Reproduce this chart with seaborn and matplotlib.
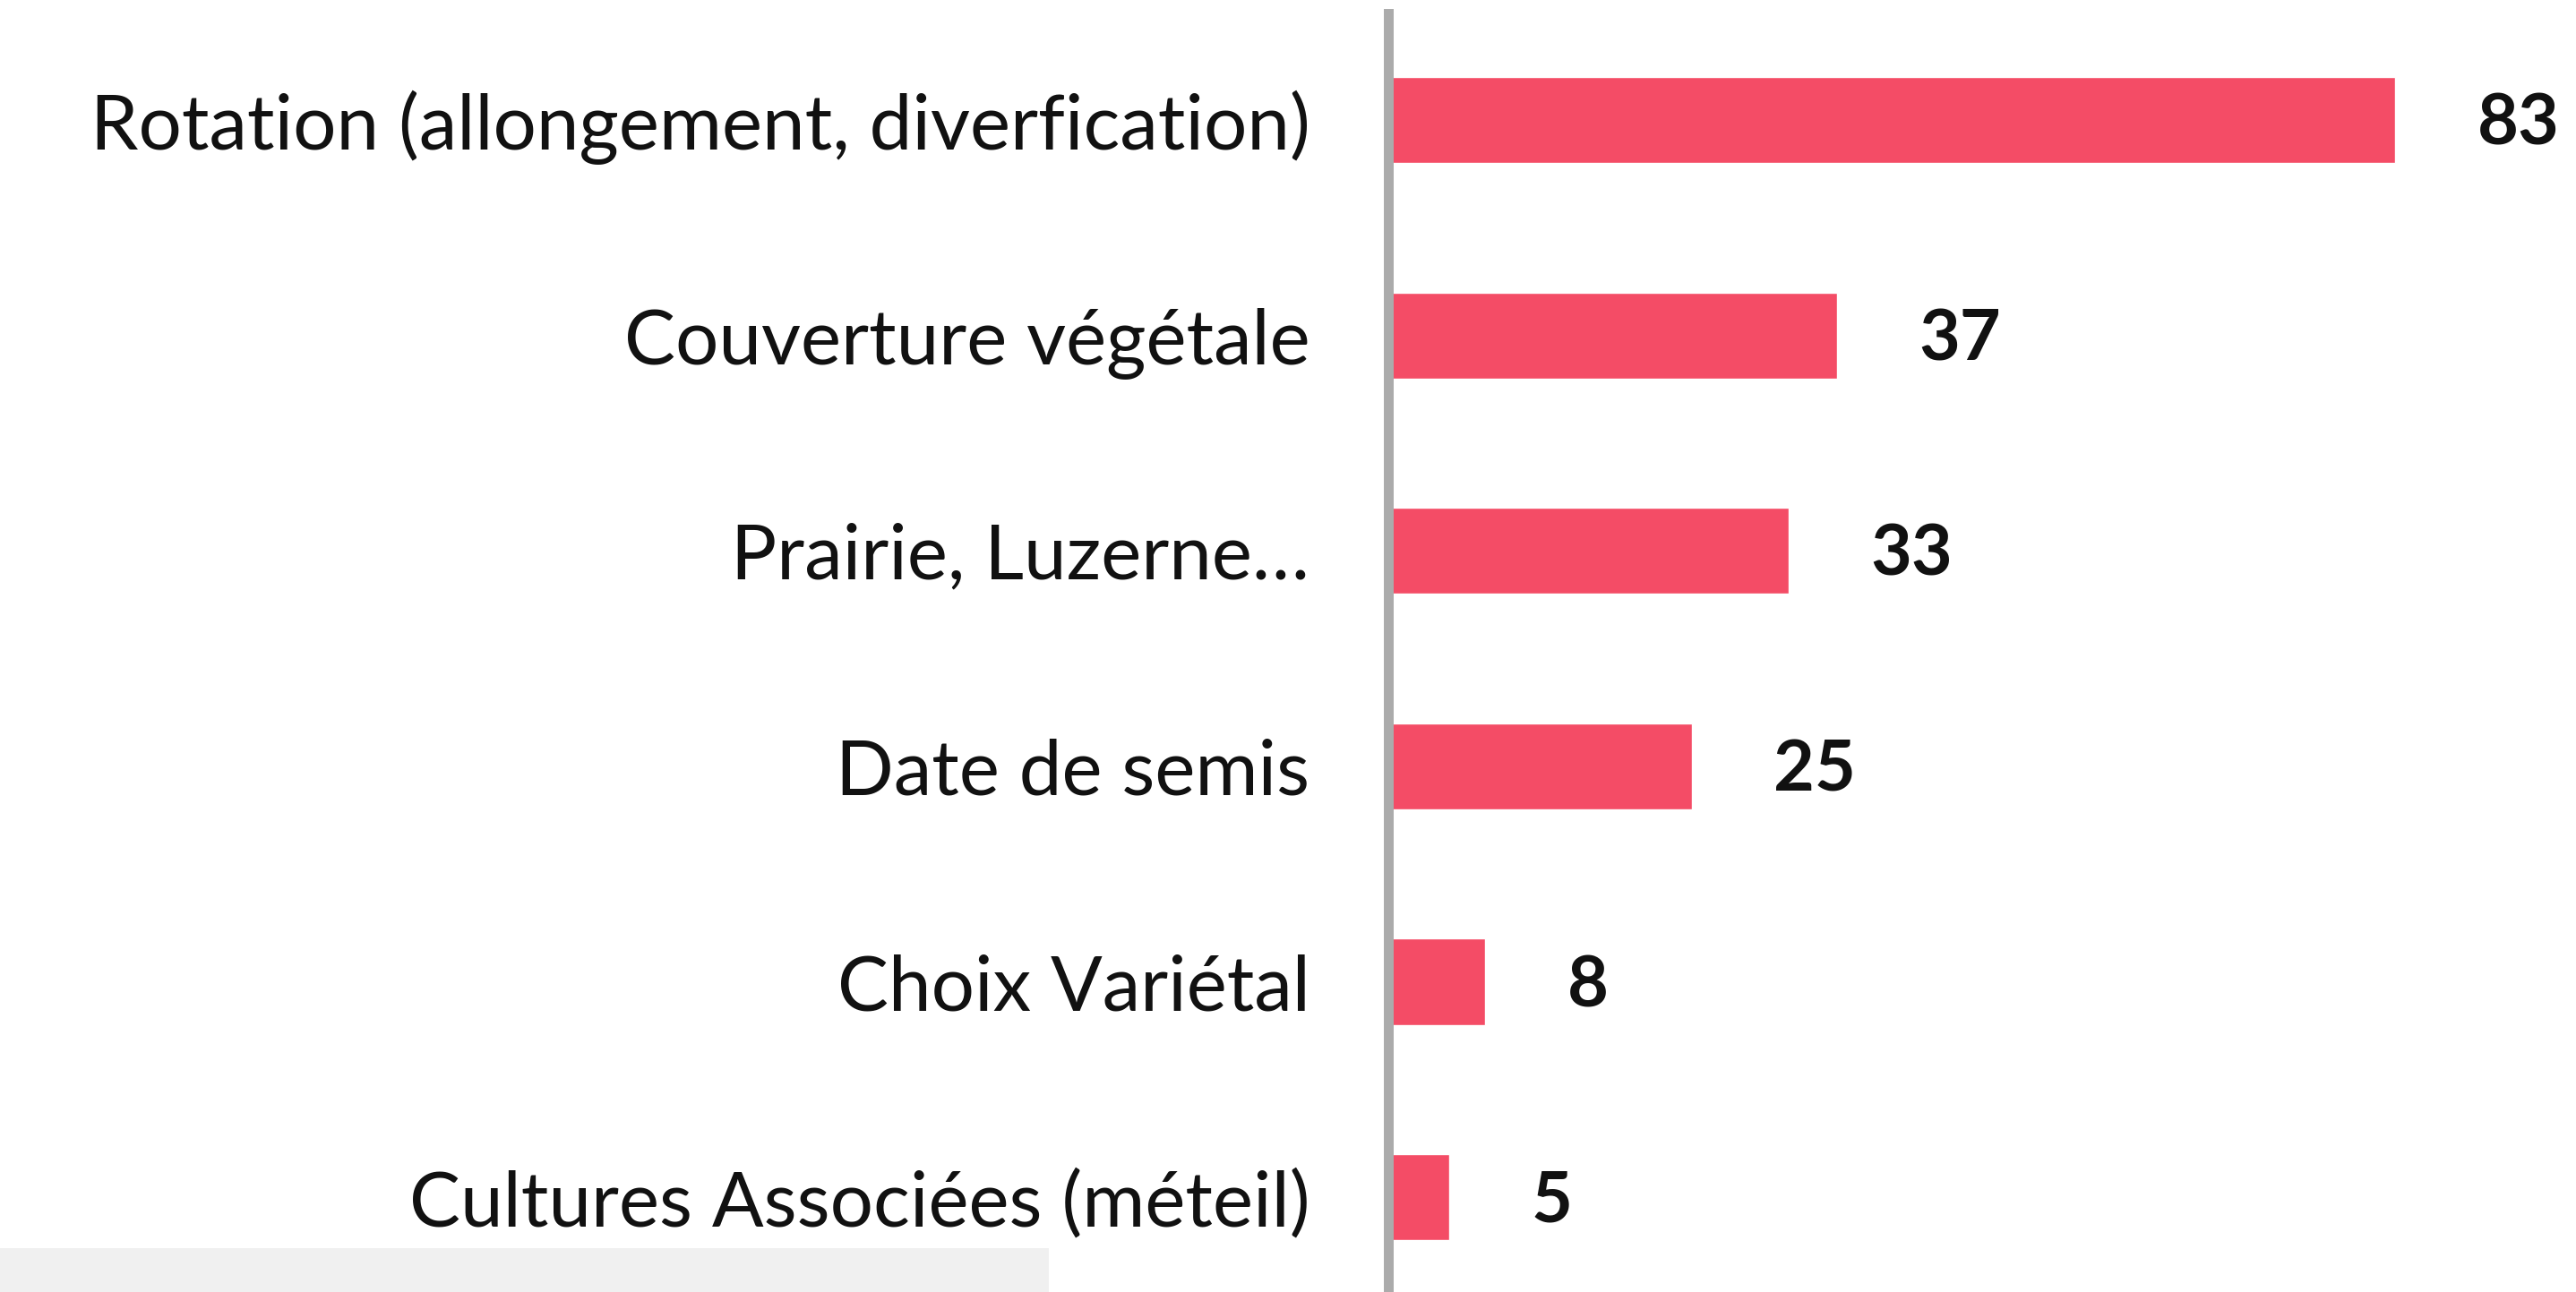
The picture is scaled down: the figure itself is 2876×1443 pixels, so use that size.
import matplotlib
matplotlib.use("Agg")
import matplotlib.pyplot as plt
from matplotlib.patches import Rectangle
import pandas as pd
import seaborn as sns

categories = [
    "Rotation (allongement, diverfication)",
    "Couverture végétale",
    "Prairie, Luzerne…",
    "Date de semis",
    "Choix Variétal",
    "Cultures Associées (méteil)",
]
values = [83, 37, 33, 25, 8, 5]

df = pd.DataFrame({"levier": categories, "n": values})

sns.set_style("white")
plt.rcParams["font.family"] = ["Lato", "DejaVu Sans"]

W, H = 2876, 1443
fig = plt.figure(figsize=(W / 100, H / 100), dpi=100)
ax = fig.add_axes([1550 / W, 0, 1 - 1550 / W, (H - 15) / H])

sns.barplot(data=df, x="n", y="levier", orient="h", color="#F44C66",
            width=0.4, saturation=1, ax=ax)

ax.set_xlim(0, 97.9)
ax.set_ylim(5.44, -0.495)
ax.set_xlabel("")
ax.set_ylabel("")
ax.set_xticks([])

for s in ["top", "right", "bottom"]:
    ax.spines[s].set_visible(False)
ax.spines["left"].set_color("#ababab")
ax.spines["left"].set_linewidth(7.9)

ax.tick_params(axis="y", length=0, pad=63, labelsize=61.5, labelcolor="#111111")

for c in ax.containers:
    labels = ax.bar_label(c, padding=66, fontsize=57, fontweight="bold", color="#111111")
    for t in labels:
        t.xyann = (66, -4)

# grey strip in the bottom-left corner of the source screenshot
fig.patches.append(Rectangle((0, 0), 1171 / W, 49 / H, transform=fig.transFigure,
                             facecolor="#f0f0f0", edgecolor="none", zorder=-1))

fig.savefig("out.png", dpi=100)
